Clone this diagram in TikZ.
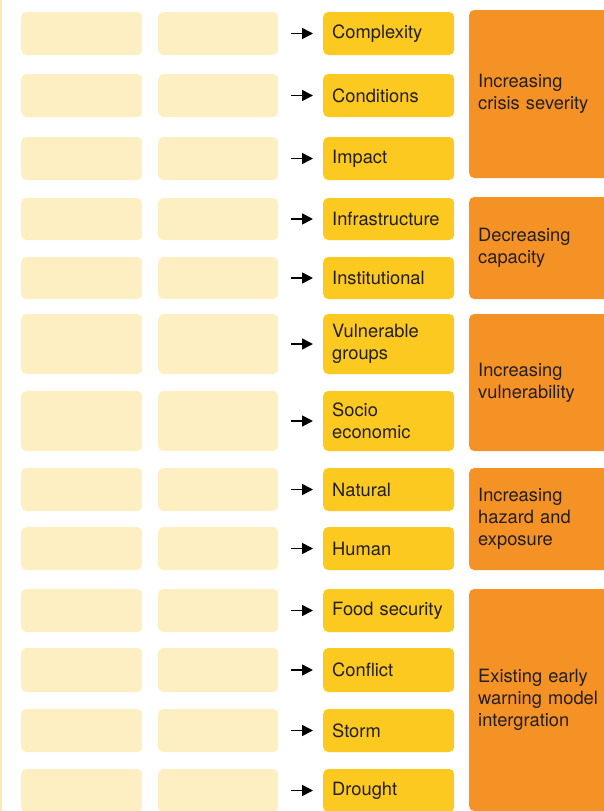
\documentclass[tikz,border=0pt]{standalone}
\usepackage{fontspec}
\setmainfont{TeX Gyre Heros}
\usetikzlibrary{arrows.meta}
\definecolor{pale}{HTML}{FEEFC2}
\definecolor{edgeline}{HTML}{FDE9B5}
\definecolor{yel}{HTML}{FBC91F}
\definecolor{org}{HTML}{F59225}
\definecolor{txt}{HTML}{231F20}
\begin{document}
\begin{tikzpicture}[x=1pt,y=-1pt,
  every node/.style={font=\fontsize{18.3}{22}\selectfont, text=txt},
  palebox/.style={fill=pale, rounded corners=5pt, inner sep=0pt, anchor=west},
  yelbox/.style={fill=yel, rounded corners=5pt, inner xsep=9pt, inner ysep=0pt, anchor=west,
     minimum width=131pt, text width=113pt, align=left},
  orgbox/.style={fill=org, rounded corners=5pt, inner xsep=9pt, inner ysep=0pt, anchor=west,
     minimum width=160pt, text width=142pt, align=left},
  arr/.style={-{Triangle[length=11pt,width=11pt]}, line width=1.7pt, black,
     shorten <=13pt, shorten >=10pt}]
\useasboundingbox (0,0) rectangle (604,811);
\clip (0,0) rectangle (604,811);
\fill[edgeline] (0,0) rectangle (2,811);
\foreach \i/\t/\b/\lab in {
  1/12/55/{Complexity},
  2/74/117/{Conditions},
  3/137/180/{Impact},
  4/198/240/{Infrastructure},
  5/257/299/{Institutional},
  6/314/374/{Vulnerable\\groups},
  7/391/451/{Socio\\economic},
  8/468/511/{Natural},
  9/527/570/{Human},
  10/589/632/{Food security},
  11/648/692/{Conflict},
  12/709/752/{Storm},
  13/769/812/{Drought}}{
  \pgfmathsetmacro\cy{(\t+\b)/2}
  \pgfmathsetmacro\hh{\b-\t}
  \node[palebox, minimum width=121pt, minimum height=\hh pt] (a\i) at (21,\cy) {};
  \node[palebox, minimum width=120pt, minimum height=\hh pt] (b\i) at (158,\cy) {};
  \node[yelbox, minimum height=\hh pt] (y\i) at (323,\cy) {\lab};
  \draw[arr] (b\i.east) -- (y\i.west);
}
\foreach \i/\t/\b/\lab in {
  1/10/178/{Increasing\\crisis severity},
  2/197/299/{Decreasing\\capacity},
  3/314/451/{Increasing\\vulnerability},
  4/468/570/{Increasing\\hazard and\\exposure},
  5/589/811/{Existing early\\warning model\\intergration}}{
  \pgfmathsetmacro\cy{(\t+\b)/2}
  \pgfmathsetmacro\hh{\b-\t}
  \node[orgbox, minimum height=\hh pt] (o\i) at (469,\cy) {\lab};
}
\end{tikzpicture}
\end{document}
